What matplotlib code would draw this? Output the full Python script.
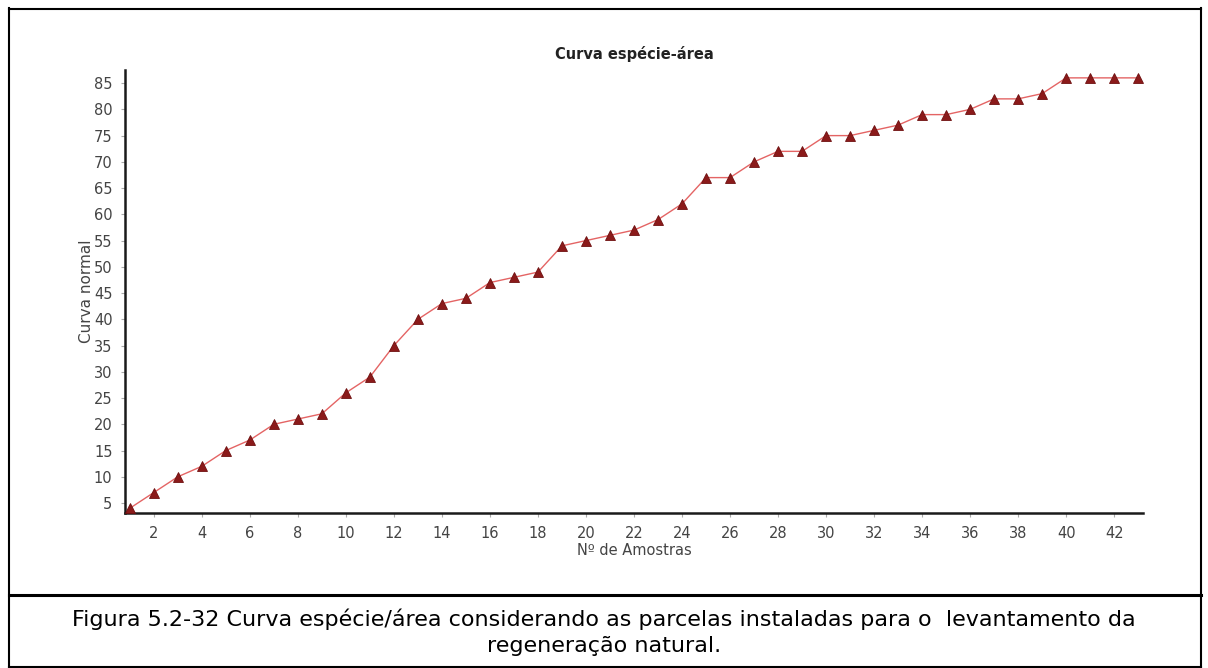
import matplotlib
matplotlib.use("Agg")
import matplotlib.pyplot as plt
from matplotlib.lines import Line2D

plt.rcParams["font.family"] = ["DejaVu Sans"]

# ── data ───────────────────────────────────────────────────────────────────────
amostras = list(range(1, 44))
especies = [4, 7, 10, 12, 15, 17, 20, 21, 22, 26,
            29, 35, 40, 43, 44, 47, 48, 49, 54, 55,
            56, 57, 59, 62, 67, 67, 70, 72, 72, 75,
            75, 76, 77, 79, 79, 80, 82, 82, 83, 86,
            86, 86, 86]
x_ticks = list(range(2, 44, 2))
y_ticks = list(range(5, 90, 5))

TITLE   = "Curva espécie-área"
XLABEL  = "Nº de Amostras"
YLABEL  = "Curva normal"
CAPTION = ("Figura 5.2-32 Curva espécie/área considerando as parcelas instaladas para o  levantamento da\n"
           "regeneração natural.")

# ── figure ─────────────────────────────────────────────────────────────────────
W, H = 1208, 668
fig = plt.figure(figsize=(W / 100, H / 100), dpi=100)
fig.patch.set_facecolor("white")

ax = fig.add_axes([125 / W, 1 - 513 / H, (1143 - 125) / W, (513 - 70) / H])
ax.plot(amostras, especies, color="#e46464", linewidth=1.0, zorder=2)
ax.plot(amostras, especies, linestyle="none", marker="^", markersize=7.5,
        markerfacecolor="#8b1a1a", markeredgecolor="#6e1010",
        markeredgewidth=0.6, zorder=3, clip_on=False)

ax.set_xlim(0.8, 43.2)
ax.set_ylim(3.1, 87.5)
ax.set_xticks(x_ticks)
ax.set_yticks(y_ticks)

for side in ("top", "right"):
    ax.spines[side].set_visible(False)
for side in ("left", "bottom"):
    ax.spines[side].set_linewidth(1.8)
    ax.spines[side].set_color("#1a1a1a")

ax.tick_params(axis="both", direction="out", length=3, width=0.8,
               color="#aaaaaa", labelsize=10.5, labelcolor="#444444")
ax.tick_params(axis="x", pad=6)
ax.tick_params(axis="y", pad=6)

ax.set_title(TITLE, fontsize=10.5, fontweight="bold", color="#222222", pad=8)
ax.set_xlabel(XLABEL, fontsize=10.5, color="#444444", labelpad=2)
ax.set_ylabel(YLABEL, fontsize=11, color="#444444", labelpad=0)

# ── frame + caption ────────────────────────────────────────────────────────────
def fx(px):
    return px / W

def fy(py):
    return 1 - py / H

frame_kw = dict(color="black", linewidth=1.5, transform=fig.transFigure)
fig.add_artist(Line2D([fx(9), fx(1201)], [fy(8.5), fy(8.5)], **frame_kw))
fig.add_artist(Line2D([fx(9), fx(9)], [fy(8), fy(667)], **frame_kw))
fig.add_artist(Line2D([fx(1201), fx(1201)], [fy(8), fy(667)], **frame_kw))
fig.add_artist(Line2D([fx(9), fx(1201)], [fy(594.5), fy(594.5)],
                      color="black", linewidth=2.2, transform=fig.transFigure))
fig.add_artist(Line2D([fx(9), fx(1201)], [fy(666.5), fy(666.5)], **frame_kw))

fig.text(fx(604), fy(632), CAPTION, ha="center", va="center",
         fontsize=16, color="black", linespacing=1.4)

fig.savefig("out.png", dpi=100)
